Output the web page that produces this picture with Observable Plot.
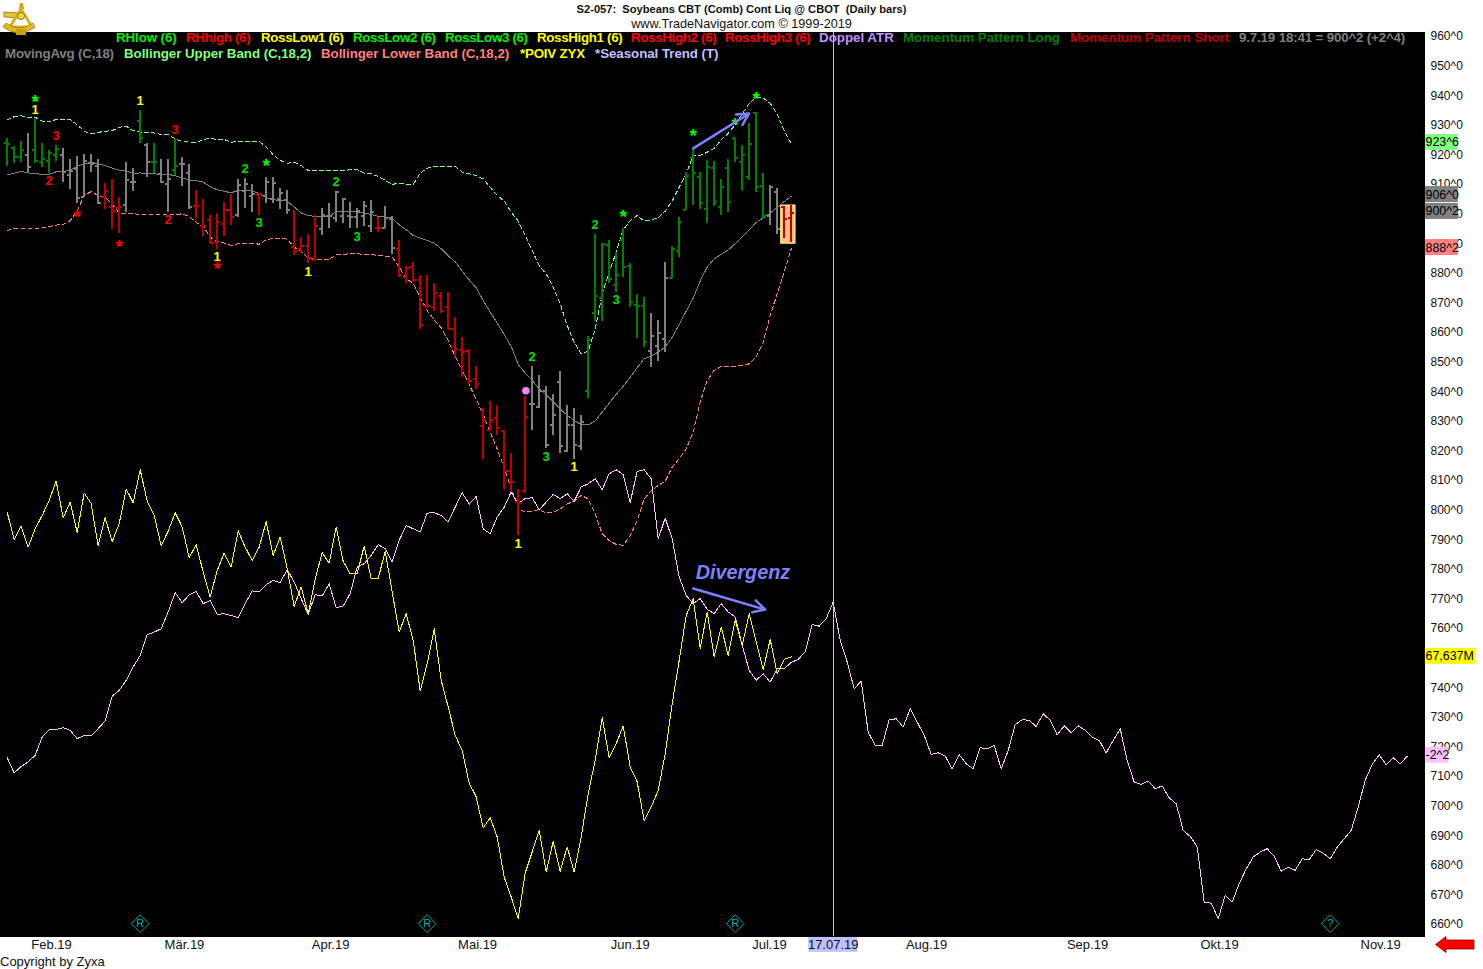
<!DOCTYPE html>
<html><head><meta charset="utf-8">
<script src="https://cdn.jsdelivr.net/npm/d3@7"></script>
<script src="https://cdn.jsdelivr.net/npm/@observablehq/plot@0.6"></script>
<style>
html,body{margin:0;padding:0;background:#fff;overflow:hidden}
body{position:relative;width:1483px;height:969px;font-family:"Liberation Sans",Arial,sans-serif}
#chart{position:absolute;left:0;top:0}
#title{position:absolute;left:0;width:1483px;text-align:center;top:3px;font:bold 11.13px/13px "Liberation Sans";color:#111;white-space:pre}
#site{position:absolute;left:0;width:1483px;text-align:center;top:17px;font:12.66px/15px "Liberation Sans";color:#111}
.legend{position:absolute;left:0;white-space:pre;font:bold 13.33px/16px "Liberation Sans"}
.legend span{position:absolute;top:0}
#leg1{top:30px}
#leg2{top:46px}
#copy{position:absolute;left:0;top:954px;font:13px/15px "Liberation Sans";color:#111}
#logo{position:absolute;left:3px;top:3px}
#backArrow{position:absolute;left:1435px;top:936px}
</style></head><body>
<div id="chart"></div>
<div id="title"></div>
<div id="site"></div>
<div id="leg1" class="legend"></div>
<div id="leg2" class="legend"></div>
<div id="copy"></div>
<svg id="logo" width="33" height="33" viewBox="0 0 33 33">
  <path d="M17 0 L20 0 L21 6 L16 6 Z" fill="#c8a000"/>
  <path d="M1 9 L18 10 L18 15 L1 14 Z" fill="#e8c830" stroke="#806000" stroke-width=".7"/>
  <path d="M18 6 L29 24 L7 24 Z" fill="none" stroke="#d8b020" stroke-width="3"/>
  <path d="M0 24 Q16 36 32 24 L30 20 Q16 30 3 20 Z" fill="#e0bc28" stroke="#907000" stroke-width=".7"/>
  <circle cx="18" cy="13" r="3.5" fill="#f0d850" stroke="#907000"/>
  <rect x="13" y="26" width="10" height="6" fill="#c8a000"/>
</svg>
<svg id="backArrow" width="40" height="17" viewBox="0 0 40 17">
  <path d="M0.5 8.5 L11 0.5 L11 4 L39 4 L39 13 L11 13 L11 16.5 Z" fill="#ff0000" stroke="#800000" stroke-width=".8"/>
</svg>
<script>
const titleText = "S2-057:  Soybeans CBT (Comb) Cont Liq @ CBOT  (Daily bars)";
const siteText = "www.TradeNavigator.com © 1999-2019";
const copyText = "Copyright by Zyxa";

const legendOneLabels = ["RHlow (6)","RHhigh (6)","RossLow1 (6)","RossLow2 (6)","RossLow3 (6)","RossHigh1 (6)","RossHigh2 (6)","RossHigh3 (6)","Doppel ATR","Momentum Pattern Long","Momentum Pattern Short","9.7.19 18:41 = 900^2 (+2^4)"];
const legendOneColors = ["#00f000","#ff0000","#ffff00","#00f000","#00f000","#ffff00","#ff0000","#ff0000","#c890ff","#008000","#c00000","#808080"];
const legendTwoLabels = ["MovingAvg (C,18)","Bollinger Upper Band (C,18,2)","Bollinger Lower Band (C,18,2)","*POIV ZYX","*Seasonal Trend (T)"];
const legendTwoColors = ["#808080","#80ff80","#ff8080","#ffff00","#c0c0ff"];

// OHLC, one value per bar
const high = [925.4,922.8,924.5,927.1,931.8,924,921.5,923.1,922,918.3,919.4,920.1,920.3,918.6,910.2,911.7,905.5,917.3,915.3,935,924,923.7,918.6,918.3,925.1,919,916.7,907.9,904.9,899.5,900.1,
904,906.7,911.7,912,909.9,906.9,912.4,912.3,908.6,908,901.3,892,893.1,899.6,901.8,903.5,907.7,905.2,903.8,901.8,904.3,904.6,898.7,902.6,899.2,
891.1,882.3,883.7,879.3,879.3,876.4,873.6,873.4,865,858.2,854.2,848.5,834.2,836.7,835.4,826.9,819,807.1,838.4,848.5,845.5,841.9,839.1,846.7,835.4,834.2,832,858.7,893.1,890,891.1,886.9,895,883.2,872.8,871.7,866.3,864.1,883.7,889.2,898.7,
913.9,922,913.9,918.1,917.7,911.7,918.4,925.7,923.1,930.5,934.4,913.6,909.5,908.5,902.5,902.8];
const low = [916.2,917.2,917.5,913.6,917.2,915.8,913.8,917.7,910.8,908.4,903.7,905.5,914.1,903.2,901.5,894.8,893.5,900.4,907.6,923.9,912.4,913.8,910.2,900.5,913,909.3,901.4,898.6,892.5,889.9,888,
892.5,896,898.8,901.8,900.6,899.6,903.5,903.5,901.6,899.9,886.1,886.8,883.2,884.4,892.8,895.1,897.3,896.7,895.1,895.1,895.9,893.9,893.7,895.1,886.4,
878.7,876.7,876.8,860.9,868,867.2,866.3,860.9,851.5,844.7,842.4,840.6,817.2,826.9,825.1,806.9,806.1,791.3,805.7,826.9,834.2,820.7,825.1,819.2,819.4,817.2,820.1,837.8,863.8,863.8,876.7,873.6,878.7,868.6,858.1,855.1,848.3,850.3,853.4,878.1,885.5,
901.2,902.9,901.5,896.9,902.6,899.5,900.6,917.5,907.9,911.3,907.4,898.6,896.1,893.1,891.8,890.5];
const open = [923.9,922.2,919.4,919.9,921.5,917.5,918.1,919.8,920.1,913.3,915.4,905.7,917.3,916.1,905.7,902.5,902.1,903.2,910.8,931.6,923.5,917.5,913.6,910.2,914.9,916.9,913.8,902.9,896.1,898,890.6,
896.5,901.3,899.6,907.8,906.1,906.3,906,905.2,905,904.9,888.9,888.3,889.2,884.6,895.1,899.2,898.8,899.2,899.2,899,899.2,895.9,895.4,895.4,898.4,
888.3,878.9,882.1,877.6,869.1,868.6,872.2,868.6,861.2,854.2,853.9,844.2,828.3,827.1,831.2,826.7,813.2,802.7,806.3,835.7,834.8,840.4,828.6,843.2,819.9,828.6,821.8,840.2,866.5,871.7,889.4,876.1,891.4,882.4,869.4,869.1,853.9,855.6,857.9,878.4,887.7,
901.4,918.9,912.7,901.7,915.5,902.3,915.5,925.7,917.5,912.4,934.1,909.6,899.5,907.6,902.3,898.7];
const close = [923.7,919.4,921.7,915.8,918.1,918.6,920.6,922,914.1,914.7,905.5,917.9,916.9,903.7,907.9,901.2,902.5,911.5,910.8,925.6,917.5,917.5,910.8,911.9,916.4,916.9,902.3,902.9,896.1,890.3,897.2,
901.3,899,909.7,910.3,906.9,906.7,911,910.6,907.1,901.3,887.7,889.1,885.3,895.9,899.6,899.2,907.4,905,899,900.9,902.8,900.6,895.4,898.8,888.6,
879.3,881.7,877.6,862.6,869.1,873.4,867.4,861.2,854.5,853.4,843.5,842.7,830.5,830.3,827.7,813.2,809.5,802.4,831.6,835.7,840.2,822.1,832,821.8,828.6,822.1,829.7,857.3,872.2,890,878,879.3,882.1,870.3,869.1,856.7,858.8,859.8,878.4,888.3,897.3,
913,913.8,903.7,915.8,904,909.3,904,918.9,919.8,923.7,909.1,899.3,909.1,895,898.4,900.25];
// G green, A gray (neutral), R red
const barKinds = "GGGAGGGGAAAAAARRRAAGAGAAGAARRRRRRAAARAAAARRRRAAAAAAAARAA"+"RRRRRRRRRRRRRRRRRRR"+"AAAAAAAA"+"GGGGGGGGG"+"AAA"+"GGGGGGGGGGGGGG"+"AARR";

const upperBand = [931.8,932.9,933.2,932.5,932.7,931.4,931.1,932,932,932,930.2,928,927.1,927.6,928,928.2,929.3,929.7,928.2,927.6,927.6,927.4,926.9,926.9,925.4,924.6,924.3,924.3,925.1,925.7,925.1,
925.2,924.3,924.5,924.6,924.6,924.6,922.6,920.1,918.1,917.2,917.5,916.4,914.7,914.7,914.7,914.7,914.7,914.7,915,915,913.8,913.6,912.7,911.4,910,910.5,910,910,913.8,915.5,916.1,916.1,916.1,916.1,914.2,913.6,913,911.9,909.1,906.3,
904.4,900.7,897.6,892.8,887.7,882.6,879.8,875.3,869.7,862.4,856.7,852.8,853.7,861.2,873.1,880.4,887.1,894.7,897.8,899.5,897.6,898.1,898.7,901,904.4,
909.1,913.6,919.8,919.8,920.9,922.2,925.1,927.3,930.2,933.8,937.4,939.5,939.2,937.4,933.8,928.2,923.75];
const lowerBand = [894.4,895.2,895.3,895.3,895.3,895.3,895.8,896.3,896.5,897.8,901,906.3,907.6,906.3,905.7,903.4,900.4,900.3,900.3,899.7,899.7,899.8,899.7,899.7,899.8,900.1,899.2,897.2,895.9,892.2,890.7,
890.2,889.4,890,890.1,890.2,889.8,891.3,891.8,891.9,891.5,888.9,887.2,885.3,884.6,884.6,884.7,886.3,886.4,886.6,886.6,886.4,886.3,886.1,885.8,885.5,882.1,878.2,876.5,
871.9,867.4,864.3,861.6,857.3,851.9,847.2,842.4,837.4,832.3,826.3,820.7,814.3,807.5,800.4,799.3,799.7,800.2,799,799.3,800.4,802.1,803,805,803.8,798.8,792,789.7,788.4,788.1,791.4,796.5,803.8,806.6,808.3,809.8,814.5,817.3,820.7,826.3,836.5,843.8,847.2,848.5,848.5,848.5,848.9,849.4,851.9,856.7,865.8,873.1,880.4,888.25];
const movingAvg = [913.2,913.8,914.4,913.9,913.6,913.5,913.4,914.3,914.3,914.9,916.1,917,917.5,917,916.4,915.5,914.9,914.5,913.8,913.9,913.8,913.6,913.4,913.4,913,912.2,911.5,911.3,910.8,909.3,908.2,
907.7,907.2,908,908,907.8,906.9,905.5,904.9,904.6,904.4,902.4,900.4,899.5,899.2,899.2,899.2,900.9,900.9,900.8,900.7,900.4,899.9,899.2,899,898.6,896.4,894.7,892.8,891.9,891.1,
890.2,888.3,885.9,883.9,880.7,877.8,875.1,870.8,866.9,863.2,859.3,855.3,849.2,846.3,843.8,841,839,836.7,834.2,832,830.3,828.9,828.8,830.1,833.1,836.1,839.1,841.8,844.9,848.1,851.1,852,853.4,855.1,858.4,862.7,867.2,871.6,877.4,882.1,884.9,886.4,887.9,890,892.4,894.7,897.2,898.7,900.3,902.3,904.3,906];
// POIV, as it sits against the price axis
const poiv = [799.3,790,794.6,787.5,793.7,798.2,803.3,809.8,797.4,802.7,792.4,805.8,802.2,788,797.4,789.3,795.4,807.1,802.5,813.6,803.1,798.2,788,792.9,799.1,794.3,783.9,788.3,779.1,770.6,779.6,785.5,780.8,793,787.5,783,787.5,796.1,784.7,790.9,780.2,767.5,774,765,776.8,785.6,782.1,794.3,782.7,778.5,778.5,787.9,776.8,776.8,786.2,772.3,758.8,765,756,738.9,748.1,759.9,742.5,733.5,723.9,718.8,707.8,703.1,692.6,696.1,689.6,676,669.3,662,677.4,684.5,691.8,677.7,688.1,678,686.2,677.7,689.6,704.2,715.5,729.9,716.3,721.1,727.1,713.2,708.2,695,699.7,705.3,717.7,734.6,749.2,764.4,770.1,753.2,765.6,750.4,760.5,750.9,762.8,754.3,765,755.4,746.1,756.3,744.7,749.6,750.4];
// Seasonal trend runs on past the last bar
const seasonal = [716.4,711.2,713.4,714.9,717.2,723.3,725.8,725.9,726.5,725.6,722.8,723.9,723.8,726.2,728.8,737.1,739.1,742.5,747,750.9,757.9,758.8,759.9,765.6,772.1,768.7,771.4,772.5,768.4,769.5,764.8,765,764.4,763.7,768.4,772.7,772.3,774.8,776.3,775.5,779.9,775.7,770.1,764.8,771.4,771,775.1,767,767.6,771.8,780.8,781.9,784.7,788.3,787,782.5,789.8,794.8,793.7,792.6,799,799.1,798.2,796,801,805.9,802,804.6,793.7,792,797.7,801,806.1,802.2,803.9,804.2,800.1,802.7,805.3,803.9,805.5,803,807.8,808.9,810.6,806.9,812.3,813.6,812,802.5,813.1,813.6,810.6,790.3,797.3,790.3,777.4,771.2,768.4,770.1,766.5,765,768.4,765.6,763.9,754.3,745.9,742.5,744.7,741.9,746.4,746.4,748.5,749.6,752.1,761.3,760.8,
763.3,768.9,756,748.7,739.6,742.2,725,720.5,720.5,729.2,729.5,726.7,732.9,728.4,723.9,717.5,718,716.9,712.6,717.4,714.3,712.6,719.7,719.4,720.5,712.6,718.8,727.5,729.2,729,726.9,731.2,729,724.1,727.1,724.8,727.1,725.6,723.3,722.2,718,722.2,726.1,715.4,708.1,707.3,708.5,705.9,706.8,702.8,700.8,691.8,689.8,686.2,
667.6,667.2,662,669.8,667.6,673.8,678.8,682.8,684.5,685.6,683,678,679.4,678.3,682.2,681.9,685.3,684.1,682.2,686.1,689,691.8,699.7,708.7,714.1,717.3,714,716.3,714.3,716.8];

// Ross / RH markers: text, bar number, price level, colour
const signalTexts = ["*","1","3","2","*","*","1","3","2","2","*","3","1","*","2","3","1","2","3","1","1","2","3","*","*","*","*"];
const signalBars = [4,4,7,6,10,16,19,24,23,34,37,36,30,30,47,50,43,75,77,81,73,84,87,88,98,104,107];
const signalLevels = [939.4,935,926.2,911,900.5,890.4,938,928.2,897.8,915.1,917.8,896.8,885.3,883,910.7,892.1,880.3,851.6,817.8,814.4,788.4,896.2,870.8,900.5,927.9,931.6,940.4];
const signalColors = ["#00ff00","#ffff00","#ff0000","#ff0000","#ff0000","#ff0000","#ffff00","#ff0000","#ff0000","#00e000","#00ff00","#00e000","#ffff00","#ff0000","#00e000","#00e000","#ffff00","#00e000","#00e000","#ffff00","#ffff00","#00e000","#00e000","#00ff00","#00ff00","#00ff00","#00ff00"];

const yTicks = [960,950,940,930,920,910,900,890,880,870,860,850,840,830,820,810,800,790,780,770,760,750,740,730,720,710,700,690,680,670,660];
const monthBars = [6.33,25.33,46.2,67.2,89,108.9,118,131.33,154.33,173.2,196.2];
const monthLabels = ["Feb.19","Mär.19","Apr.19","Mai.19","Jun.19","Jul.19","17.07.19","Aug.19","Sep.19","Okt.19","Nov.19"];

const tagLabels = ["923^6","906^0","900^2","888^2","67,637M","-2^2"];
const tagLevels = [924.2,906.6,900.9,888.7,750.6,717.2];
const tagColors = ["#80ff80","#808080","#808080","#ff8080","#ffff00","#ffc0ff"];
const tagBarWidths = [4.7,4.7,4.7,4.7,7.2,3.3];

const flagBars = [19,60,104,189];
const flagTexts = ["R","R","R","?"];

const cursorBar = 118;
const pinkDot = [{bar:74.1, level:840.3}];
const arrows = [
  {b1:98, v1:922.2, b2:106, v2:934},
  {b1:98, v1:773.5, b2:108.3, v2:766.4}
];
const noteText = [{bar:98.35, level:779, text:"Divergenz"}];

// legend layout, kept apart from the labels
const legendOneLefts = [116,186,261,353,445,537,631,725,819,903,1070,1239];
const legendOneTracking = [-0.1,-0.3,-0.33,-0.33,-0.33,-0.33,-0.33,-0.33,0,0,0,-0.16];
const legendTwoLefts = [5,124,321,520,595];
const legendTwoTracking = [-0.2,-0.05,-0.05,-0.2,-0.05];

const kindColor = {G:"#008000", A:"#808080", R:"#c00000"};
const bars = high.map((h,i)=>({i, high:h, low:low[i], open:open[i], close:close[i], color:kindColor[barKinds[i]]}));
const asLine = arr => arr.map((v,i)=>({i,v}));
const signals = signalTexts.map((t,k)=>({t, i:signalBars[k], v:signalLevels[k], c:signalColors[k]}));
const tags = tagLabels.map((t,k)=>({t, v:tagLevels[k], c:tagColors[k], w:tagBarWidths[k]}));
const flags = flagBars.map((b,k)=>({b, t:flagTexts[k], v:660.3}));
const monthText = new Map(monthBars.map((b,k)=>[b,monthLabels[k]]));
const lastBars = bars.slice(111);

const font = "Liberation Sans";
const lineStyle = {x:"i", y:"v", strokeWidth:1, shapeRendering:"crispEdges"};

const plot = Plot.plot({
  width:1483, height:969,
  marginLeft:0, marginRight:59, marginTop:32, marginBottom:33,
  style:{background:"white", color:"#111", fontFamily:font, fontSize:"12px", overflow:"visible"},
  x:{domain:[-0.953,202.47], axis:null},
  y:{domain:[655.95,961.35], axis:null},
  color:{type:"identity"},
  marks:[
    Plot.frame({fill:"black", stroke:"black"}),
    Plot.rect([{}],{x1:()=>cursorBar-3.5, x2:()=>cursorBar+3.5, y1:650.6, y2:655.6, fill:"#c0c0ff"}),
    Plot.ruleX([cursorBar],{stroke:"#c0c0ff", strokeWidth:1, shapeRendering:"crispEdges"}),
    Plot.axisY({anchor:"right", ticks:yTicks, tickFormat:d=>d+"^0", tickSize:0, tickPadding:6, label:null, fontSize:12, fontFamily:font}),
    Plot.axisX({anchor:"bottom", ticks:monthBars, tickFormat:d=>monthText.get(d), tickSize:0, tickPadding:3, label:null, fontSize:13, fontFamily:font}),
    Plot.rect(lastBars.slice(0,1),{x1:d=>d.i-0.43, x2:d=>d.i+1.62, y1:()=>890, y2:()=>902.9, fill:"#ffc080", stroke:"#ffff80", strokeWidth:1}),
    Plot.line(asLine(upperBand),{...lineStyle, stroke:"#80ff80", strokeDasharray:"4,3"}),
    Plot.line(asLine(lowerBand),{...lineStyle, stroke:"#ff8080", strokeDasharray:"4,3"}),
    Plot.line(asLine(movingAvg),{...lineStyle, stroke:"#808080"}),
    Plot.line(asLine(seasonal),{...lineStyle, stroke:"#ffc0ff"}),
    Plot.line(asLine(poiv),{...lineStyle, stroke:"#ffff00"}),
    Plot.ruleX(bars,{x:"i", y1:"low", y2:"high", stroke:"color", strokeWidth:2, shapeRendering:"crispEdges"}),
    Plot.ruleY(bars,{y:"open", x1:d=>d.i-0.45, x2:"i", stroke:"color", strokeWidth:2, shapeRendering:"crispEdges"}),
    Plot.ruleY(bars,{y:"close", x1:"i", x2:d=>d.i+0.45, stroke:"color", strokeWidth:2, shapeRendering:"crispEdges"}),
    Plot.dot(pinkDot,{x:"bar", y:"level", r:3.8, fill:"#ff80ff"}),
    Plot.text(signals.filter(d=>d.t!=="*"),{x:"i", y:"v", text:"t", fill:"c", fontWeight:"bold", fontSize:13, fontFamily:font, dy:-1}),
    Plot.text(signals.filter(d=>d.t==="*"),{x:"i", y:"v", text:"t", fill:"c", fontWeight:"bold", fontSize:19, fontFamily:font, dy:4.5}),
    Plot.arrow(arrows,{x1:"b1", y1:"v1", x2:"b2", y2:"v2", stroke:"#8080ff", strokeWidth:2.5, headLength:8, headAngle:55, bend:0}),
    Plot.text(noteText,{x:"bar", y:"level", text:"text", fill:"#8080ff", fontWeight:"bold", fontStyle:"italic", fontSize:19.8, fontFamily:font, textAnchor:"start"}),
    Plot.dot(flags,{x:"b", y:"v", symbol:"diamond2", r:8, stroke:"#00a8a8", fill:"none", strokeWidth:1}),
    Plot.text(flags,{x:"b", y:"v", text:"t", fill:"#00b0b0", fontSize:11, fontFamily:font}),
    Plot.rect(tags,{x1:()=>202.6, x2:d=>202.6+d.w, y1:d=>d.v-2.7, y2:d=>d.v+2.7, fill:"c"}),
    Plot.text(tags,{x:()=>202.62, y:"v", text:"t", fill:"black", textAnchor:"start", fontSize:12.4, fontFamily:font})
  ]
});
document.getElementById("chart").appendChild(plot);
document.getElementById("title").textContent = titleText;
document.getElementById("site").textContent = siteText;
document.getElementById("copy").textContent = copyText;
function fillLegend(id, labels, colors, lefts, tracking){
  const el = document.getElementById(id);
  labels.forEach((t,k)=>{
    const s=document.createElement("span");
    s.textContent=t; s.style.color=colors[k]; s.style.left=lefts[k]+"px"; s.style.letterSpacing=tracking[k]+"px";
    el.appendChild(s);
  });
}
fillLegend("leg1", legendOneLabels, legendOneColors, legendOneLefts, legendOneTracking);
fillLegend("leg2", legendTwoLabels, legendTwoColors, legendTwoLefts, legendTwoTracking);
</script>
</body></html>
